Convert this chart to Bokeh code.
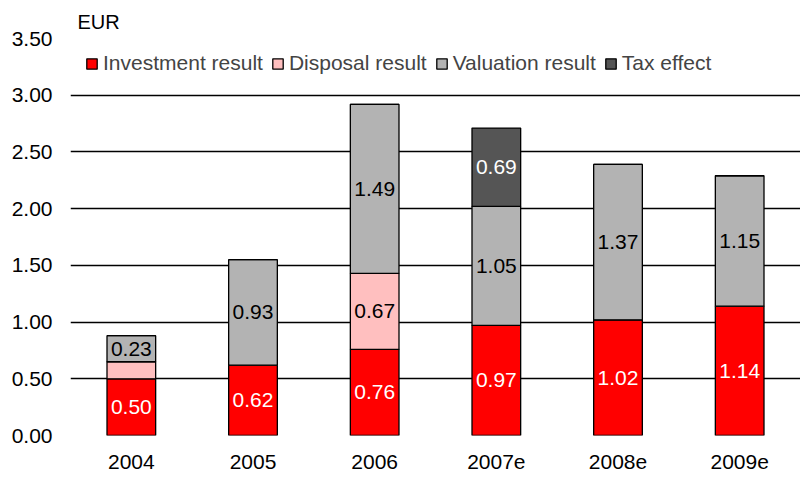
from bokeh.plotting import figure
from bokeh.models import (ColumnDataSource, FactorRange, Range1d, FixedTicker,
                          NumeralTickFormatter, Legend, LegendItem)
from bokeh.core.properties import value
from bokeh.embed import file_html
from bokeh.resources import INLINE

years = ["2004", "2005", "2006", "2007e", "2008e", "2009e"]
investment = [0.50, 0.62, 0.76, 0.97, 1.02, 1.14]
disposal = [0.15, 0.0, 0.67, 0.0, 0.0, 0.0]
valuation = [0.23, 0.93, 1.49, 1.05, 1.37, 1.15]
tax = [0.0, 0.0, 0.0, 0.69, 0.0, 0.0]
y_ticks = [0.0, 0.5, 1.0, 1.5, 2.0, 2.5, 3.0, 3.5]

series = ["investment", "disposal", "valuation", "tax"]
names = ["Investment result", "Disposal result", "Valuation result", "Tax effect"]
colors = ["#FF0000", "#FFBFBF", "#B3B3B3", "#555555"]
text_colors = ["white", "black", "black", "white"]
FONT = "Liberation Sans"
FS = "21px"

src = ColumnDataSource(dict(years=years, investment=investment, disposal=disposal,
                            valuation=valuation, tax=tax))

p = figure(x_range=FactorRange(*years), y_range=Range1d(0, 3.5),
           width=800, height=477, output_backend="svg", toolbar_location=None,
           title="EUR",
           min_border_left=70, min_border_right=0, min_border_top=38, min_border_bottom=42)
p.outline_line_color = None
p.background_fill_color = "white"
p.title.align = "left"
p.title.offset = 7
p.title.text_font = FONT
p.title.text_font_size = "20px"
p.title.text_font_style = "normal"
p.title.text_color = "black"
p.title.standoff = 11

renderers = p.vbar_stack(series, x="years", width=0.4, source=src, color=colors,
                         line_color="black", line_width=1.3)

# labels
lx, ly, lt, lc = [], [], [], []
data = [investment, disposal, valuation, tax]
for i, yr in enumerate(years):
    base = 0.0
    for s, vals in enumerate(data):
        v = vals[i]
        if v >= 0.2:
            lx.append(yr)
            ly.append(base + v / 2)
            lt.append(f"{v:.2f}")
            lc.append(text_colors[s])
        base += v
lsrc = ColumnDataSource(dict(x=lx, y=ly, t=lt, c=lc))
p.text(x="x", y="y", text="t", text_color="c", source=lsrc, text_align="center",
       text_baseline="middle", text_font=value(FONT), text_font_size=FS)

# axes
p.yaxis.ticker = FixedTicker(ticks=y_ticks)
p.yaxis.formatter = NumeralTickFormatter(format="0.00")
for ax in (p.xaxis[0], p.yaxis[0]):
    ax.axis_line_color = None
    ax.major_tick_line_color = None
    ax.minor_tick_line_color = None
    ax.major_label_text_font = FONT
    ax.major_label_text_font_size = FS
    ax.major_label_text_color = "black"
p.yaxis.major_label_standoff = 12
p.xaxis.major_label_standoff = 13
p.xgrid.grid_line_color = None
p.ygrid.ticker = FixedTicker(ticks=y_ticks)
p.ygrid.grid_line_color = "black"
p.ygrid.grid_line_width = 1.5

legend = Legend(items=[LegendItem(label=n, renderers=[r]) for n, r in zip(names, renderers)],
                orientation="horizontal", location=(15, 360), padding=0, margin=0,
                spacing=8, label_standoff=5, glyph_width=13, glyph_height=13,
                label_text_font=FONT, label_text_font_size=FS,
                background_fill_alpha=0, border_line_alpha=0)
p.add_layout(legend)

open("out.html", "w").write(file_html(p, INLINE))
